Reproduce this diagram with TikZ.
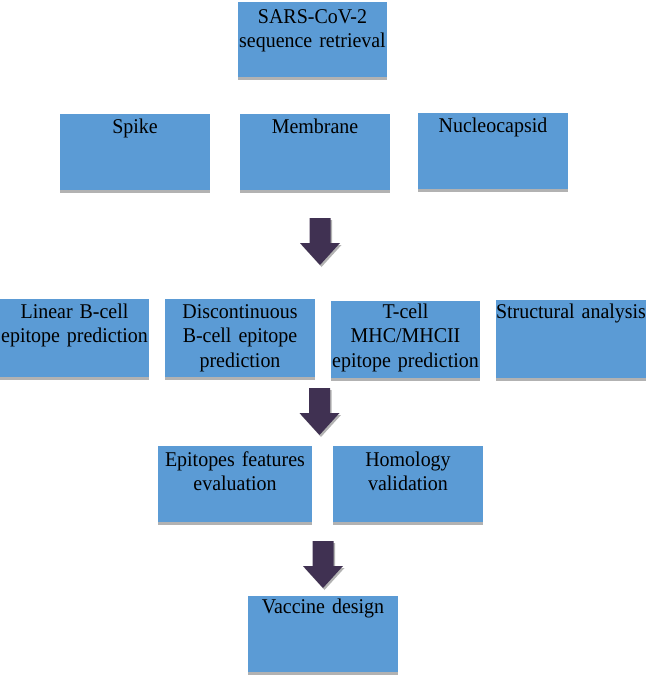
\documentclass[tikz,border=0pt]{standalone}
\usepackage{fontspec}
\setmainfont[FakeStretch=0.95]{Liberation Serif}
\usetikzlibrary{shadows}
\definecolor{boxblue}{HTML}{5B9BD5}
\definecolor{arrowpurple}{HTML}{403152}
\definecolor{shadowgray}{HTML}{B2B2B2}
\tikzset{
  box/.style={fill=boxblue, draw=none, inner sep=0pt, outer sep=0pt,
    general shadow={fill=shadowgray, shadow yshift=-3pt}},
  boxtext/.style={anchor=base, inner sep=0pt, align=center, text width=170pt,
    font=\fontsize{21}{24.5}\selectfont, text=black},
  blockarrow/.pic={
    \fill[shadowgray, xshift=1.5pt, yshift=-2pt]
      (-10.5,-47) -- (10.5,-47) -- (10.5,-22) -- (20,-22) -- (0,0) -- (-20,-22) -- (-10.5,-22) -- cycle;
    \fill[arrowpurple]
      (-10.5,-47) -- (10.5,-47) -- (10.5,-22) -- (20,-22) -- (0,0) -- (-20,-22) -- (-10.5,-22) -- cycle;
  }
}
\begin{document}
\begin{tikzpicture}[x=1pt,y=-1pt]
\useasboundingbox (0,0) rectangle (646,675);

% boxes
\node[box, minimum width=149pt, minimum height=75pt] (top) at (312.5,39.5) {};
\node[box, minimum width=150pt, minimum height=76pt] (spike) at (135,152) {};
\node[box, minimum width=150pt, minimum height=76pt] (membrane) at (315,152) {};
\node[box, minimum width=150pt, minimum height=76pt] (nucleo) at (493,151) {};
\node[box, minimum width=149pt, minimum height=78pt] (linear) at (74.5,338) {};
\node[box, minimum width=150pt, minimum height=78pt] (discont) at (240,338) {};
\node[box, minimum width=149pt, minimum height=77pt] (tcell) at (405.5,339.5) {};
\node[box, minimum width=150pt, minimum height=78pt] (struct) at (571,339) {};
\node[box, minimum width=154pt, minimum height=76pt] (epit) at (235,484) {};
\node[box, minimum width=150pt, minimum height=76pt] (homol) at (408,484) {};
\node[box, minimum width=150pt, minimum height=76pt] (vaccine) at (323,634) {};

% texts
\node[boxtext] (ttop) at ([yshift=-21pt]top.north) {SARS-CoV-2\\sequence retrieval};
\node[boxtext] (tspike) at ([yshift=-19pt]spike.north) {Spike};
\node[boxtext] (tmembrane) at ([yshift=-19pt]membrane.north) {Membrane};
\node[boxtext] (tnucleo) at ([yshift=-19pt]nucleo.north) {Nucleocapsid};
\node[boxtext] (tlinear) at ([yshift=-19pt]linear.north) {Linear B-cell\\epitope prediction};
\node[boxtext] (tdiscont) at ([yshift=-19pt]discont.north) {Discontinuous\\B-cell epitope\\prediction};
\node[boxtext] (ttcell) at ([yshift=-17pt]tcell.north) {T-cell\\MHC/MHCII\\epitope prediction};
\node[boxtext] (tstruct) at ([yshift=-18pt]struct.north) {Structural analysis};
\node[boxtext] (tepit) at ([yshift=-20pt]epit.north) {Epitopes features\\evaluation};
\node[boxtext] (thomol) at ([yshift=-20pt]homol.north) {Homology\\validation};
\node[boxtext] (tvaccine) at ([yshift=-17pt]vaccine.north) {Vaccine design};

% block arrows (positioned by their tips)
\coordinate (a1) at (320,265);
\coordinate (a2) at (319.5,435);
\coordinate (a3) at (323,588);
\pic at (a1) {blockarrow};
\pic at (a2) {blockarrow};
\pic at (a3) {blockarrow};
\end{tikzpicture}
\end{document}
